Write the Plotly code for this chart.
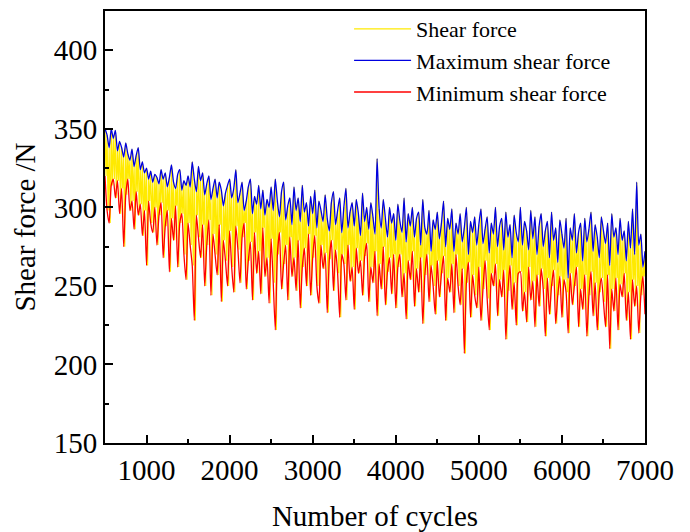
import plotly.graph_objects as go

# cycles sampled every 25 cycles from 500 to 7000
cycles = list(range(500, 7001, 25))

# Maximum shear force (blue envelope), one row per 500 cycles
max_force = [
    350, 346, 338, 350, 344, 349, 336, 342, 338, 332, 341, 334, 330, 337, 326, 333, 338, 324, 329, 322,
    325, 318, 323, 316, 321, 319, 315, 324, 318, 322, 313, 319, 327, 316, 312, 321, 324, 311, 317, 314,
    320, 313, 329, 318, 310, 326, 317, 322, 308, 315, 320, 305, 312, 318, 306, 316, 311, 301, 309, 314,
    318, 306, 312, 324, 303, 309, 316, 298, 304, 313, 318, 296, 307, 302, 314, 299, 311, 295, 305, 300,
    313, 298, 318, 304, 294, 310, 316, 292, 301, 306, 289, 313, 298, 306, 291, 314, 297, 303, 288, 307,
    296, 311, 287, 304, 298, 291, 308, 293, 285, 303, 310, 289, 298, 306, 284, 300, 312, 287, 297, 303,
    288, 305, 296, 282, 309, 291, 300, 286, 303, 294, 283, 331, 299, 287, 305, 293, 281, 300, 290, 296,
    279, 302, 291, 284, 306, 278, 296, 288, 300, 281, 293, 297, 276, 305, 287, 283, 298, 272, 292, 286,
    297, 280, 290, 304, 275, 293, 286, 299, 272, 290, 283, 296, 278, 287, 300, 270, 291, 284, 294, 276,
    289, 299, 277, 286, 294, 271, 290, 283, 300, 275, 288, 293, 273, 297, 281, 289, 268, 295, 284, 278,
    300, 276, 291, 285, 273, 298, 280, 294, 270, 288, 296, 275, 285, 291, 268, 297, 279, 287, 265, 292,
    283, 274, 293, 255, 287, 279, 296, 271, 284, 290, 266, 293, 278, 286, 297, 272, 289, 281, 268, 294,
    285, 277, 290, 263, 296, 281, 287, 270, 293, 279, 285, 266, 291, 274, 299, 270, 316, 276, 283, 262,
    272,
]

# Minimum shear force (red envelope)
min_force = [
    320, 298, 290, 314, 318, 306, 317, 296, 312, 275, 308, 318, 298, 304, 286, 310, 295, 302, 282, 298,
    263, 304, 290, 284, 300, 276, 295, 303, 268, 288, 298, 259, 293, 279, 301, 262, 290, 296, 270, 254,
    290, 276, 263, 228, 295, 281, 268, 289, 250, 276, 292, 244, 283, 270, 257, 289, 240, 279, 266, 250,
    285, 262, 246, 288, 273, 252, 281, 290, 248, 266, 278, 241, 284, 258, 272, 245, 287, 256, 268, 239,
    280, 252, 222, 270, 284, 248, 264, 276, 241, 281, 256, 268, 247, 279, 236, 262, 274, 250, 283, 244,
    268, 282, 250, 239, 276, 261, 271, 233, 267, 279, 247, 273, 258, 230, 270, 264, 241, 276, 253, 262,
    235, 274, 258, 266, 244, 269, 277, 240, 262, 252, 272, 231, 264, 248, 275, 238, 259, 268, 245, 270,
    236, 262, 270, 243, 258, 229, 266, 254, 272, 237, 261, 246, 268, 226, 257, 270, 240, 263, 250, 232,
    266, 243, 258, 269, 228, 255, 246, 264, 233, 270, 250, 238, 261, 207, 252, 265, 230, 257, 244, 236,
    262, 228, 248, 266, 242, 222, 258, 250, 264, 231, 254, 243, 260, 216, 247, 263, 235, 252, 225, 258,
    259, 234, 246, 227, 262, 241, 253, 224, 257, 237, 261, 248, 218, 255, 232, 250, 260, 226, 244, 256,
    230, 254, 246, 220, 258, 238, 250, 262, 224, 248, 235, 257, 218, 244, 259, 231, 252, 222, 246, 255,
    240, 224, 257, 210, 248, 234, 255, 222, 251, 243, 258, 228, 246, 216, 254, 237, 250, 220, 244, 256,
    232,
]

# the measured shear force swings between the two envelopes every half step
shear_x, shear_y = [], []
for c, hi, lo in zip(cycles, max_force, min_force):
    shear_x += [c, c + 12.5]
    shear_y += [hi, lo]

FONT = "Liberation Serif"

fig = go.Figure()
fig.add_trace(go.Scatter(x=shear_x, y=shear_y, mode="lines", name="Shear force",
                         line=dict(color="#FFEA00", width=1.2)))
fig.add_trace(go.Scatter(x=cycles, y=max_force, mode="lines", name="Maximum shear force",
                         line=dict(color="#0000E0", width=1.3, shape="spline", smoothing=0.6)))
fig.add_trace(go.Scatter(x=cycles, y=min_force, mode="lines", name="Minimum shear force",
                         line=dict(color="#FF0000", width=1.3, shape="spline", smoothing=0.6)))

axis_common = dict(
    showgrid=False, zeroline=False,
    showline=True, linecolor="black", linewidth=1.8, mirror=True,
    ticks="inside", ticklen=8, tickwidth=1.8, tickcolor="black",
    tickfont=dict(family=FONT, size=29, color="black"),
)

fig.update_xaxes(
    range=[500, 7000], tickvals=[1000, 2000, 3000, 4000, 5000, 6000, 7000],
    minor=dict(dtick=500, tick0=500, ticks="inside", ticklen=4, tickwidth=1.5, tickcolor="black"),
    title=dict(text="Number of cycles", font=dict(family=FONT, size=29, color="black"), standoff=24),
    **axis_common,
)
fig.update_yaxes(
    range=[150, 425], tickvals=[150, 200, 250, 300, 350, 400],
    minor=dict(dtick=25, tick0=150, ticks="inside", ticklen=4, tickwidth=1.5, tickcolor="black"),
    title=dict(text="Shear force /N", font=dict(family=FONT, size=29, color="black"), standoff=10),
    **axis_common,
)

# the page body adds an 8px offset, so the figure is a little smaller than the window
fig.update_layout(
    width=682, height=524,
    margin=dict(l=97, r=45, t=0, b=89),
    paper_bgcolor="white", plot_bgcolor="white",
    font=dict(family=FONT, color="black"),
    legend=dict(x=0.452, y=1.008, xanchor="left", yanchor="top",
                bgcolor="rgba(0,0,0,0)", font=dict(family=FONT, size=22, color="black"),
                itemwidth=57, tracegroupgap=0),
)

fig.write_html("out.html")
